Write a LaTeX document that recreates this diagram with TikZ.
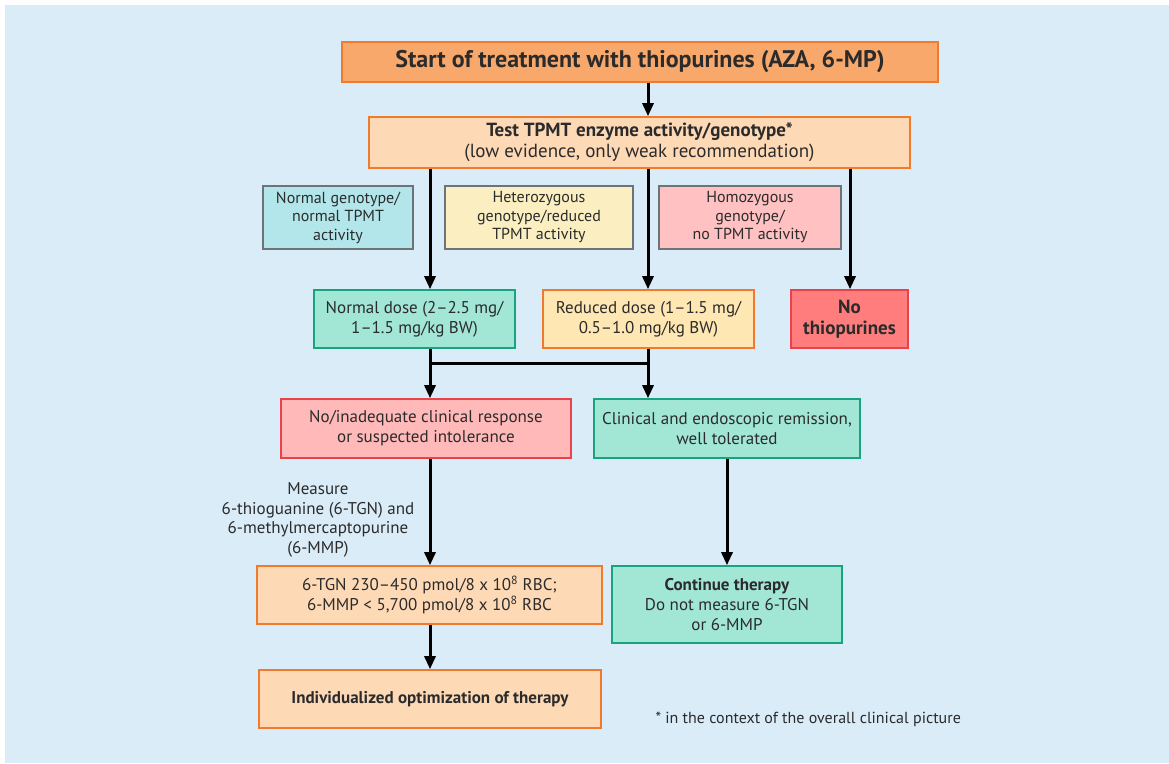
\documentclass[tikz,border=0pt]{standalone}
\usepackage{fontspec}
\setmainfont{PT Sans}
\usetikzlibrary{arrows.meta}
\definecolor{bgblue}{HTML}{D9ECF8}
\definecolor{orfill}{HTML}{F9A86B}
\definecolor{orline}{HTML}{F07B2E}
\definecolor{peach}{HTML}{FED9B6}
\definecolor{lightyel}{HTML}{FFE7B3}
\definecolor{cyanfill}{HTML}{B3E6EA}
\definecolor{creamfill}{HTML}{FBEFC2}
\definecolor{pinkfill}{HTML}{FFC1C1}
\definecolor{greenfill}{HTML}{A2E6D6}
\definecolor{greenline}{HTML}{17A47E}
\definecolor{redfill}{HTML}{FF7D7D}
\definecolor{redline}{HTML}{E8434B}
\definecolor{rosefill}{HTML}{FFB9B9}
\definecolor{grayline}{HTML}{6E7378}
\definecolor{txt}{HTML}{2B2B2B}
\tikzset{
  box/.style={draw, line width=1.6pt, align=center, inner sep=0pt, text=txt, font=\fontsize{17}{20}\selectfont},
  orangebox/.style={box, draw=orline, fill=peach},
  greenbox/.style={box, draw=greenline, fill=greenfill},
  redbox/.style={box, draw=redline, fill=rosefill},
  labelbox/.style={box, draw=grayline, line width=1.3pt, font=\fontsize{16}{18.5}\selectfont},
  flow/.style={line width=3pt, -{Triangle[width=11pt,length=13pt]}},
  joint/.style={line width=3pt}
}
\begin{document}
\begin{tikzpicture}[x=1pt,y=-1pt]
\useasboundingbox (0,0) rectangle (1169,763);
\fill[white] (0,0) rectangle (1169,763);
\fill[bgblue] (5,5) rectangle (1169,763);

% column lines of the chart
\coordinate (cl) at (430,0);
\coordinate (cm) at (648,0);
\coordinate (cr) at (850,0);

% top of the chart
\node[box, draw=orline, fill=orfill, minimum width=596pt, minimum height=40pt,
  font=\bfseries\fontsize{24}{28}\selectfont] (start) at (640,62)
  {Start of treatment with thiopurines (AZA, 6-MP)};
\node[orangebox, minimum width=541pt, minimum height=51pt, font=\fontsize{19}{21}\selectfont] (test) at (639.5,142.5)
  {\textbf{Test TPMT enzyme activity/genotype*}\\(low evidence, only weak recommendation)};

% genotype categories
\node[labelbox, fill=cyanfill, minimum width=150pt, minimum height=63pt] (normgen) at (338,217.5)
  {Normal genotype/\\normal TPMT\\activity};
\node[labelbox, fill=creamfill, minimum width=188pt, minimum height=63pt] (hetgen) at (539,217.5)
  {Heterozygous\\genotype/reduced\\TPMT activity};
\node[labelbox, fill=pinkfill, minimum width=182pt, minimum height=63pt] (homgen) at (750,217.5)
  {Homozygous\\genotype/\\no TPMT activity};

% dosing
\node[greenbox, minimum width=201pt, minimum height=58pt] (normdose) at (414.5,319)
  {Normal dose (2--2.5 mg/\\1--1.5 mg/kg BW)};
\node[box, draw=orline, fill=lightyel, minimum width=211pt, minimum height=58pt] (reddose) at (648.5,319)
  {Reduced dose (1--1.5 mg/\\0.5--1.0 mg/kg BW)};
\node[box, draw=redline, fill=redfill, minimum width=117pt, minimum height=58pt,
  font=\bfseries\fontsize{19}{21}\selectfont] (nothio) at (849.5,319)
  {No\\thiopurines};

% response
\node[redbox, minimum width=290pt, minimum height=59pt] (noresp) at (426,428.5)
  {No/inadequate clinical response\\or suspected intolerance};
\node[greenbox, minimum width=266pt, minimum height=59pt] (remission) at (727,428.5)
  {Clinical and endoscopic remission,\\well tolerated};

% follow-up
\node[orangebox, minimum width=345pt, minimum height=58pt] (levels) at (429.5,595)
  {6-TGN 230--450 pmol/8 x 10\textsuperscript{8} RBC;\\6-MMP < 5,700 pmol/8 x 10\textsuperscript{8} RBC};
\node[orangebox, minimum width=342pt, minimum height=58pt, font=\bfseries\fontsize{17}{20}\selectfont] (optim) at (430,699)
  {Individualized optimization of therapy};
\node[greenbox, minimum width=230pt, minimum height=77pt] (cont) at (727,604.5)
  {\textbf{Continue therapy}\\Do not measure 6-TGN\\or 6-MMP};

\node[align=center, text=txt, font=\fontsize{17}{19.5}\selectfont] (measure) at (318,520)
  {Measure\\6-thioguanine (6-TGN) and\\6-methylmercaptopurine\\(6-MMP)};
\node[anchor=west, text=txt, font=\fontsize{16}{18}\selectfont] (note) at (652,719)
  {* in the context of the overall clinical picture};

% connectors
\draw[flow] (start.south -| cm) -- (test.north -| cm);
\draw[flow] (test.south -| cl) -- (normdose.north -| cl);
\draw[flow] (test.south -| cm) -- (reddose.north -| cm);
\draw[flow] (test.south -| cr) -- (nothio.north -| cr);

\coordinate (jl) at (430,363);
\coordinate (jr) at (648,363);
\draw[joint] (normdose.south -| jl) -- (jl) -- (jr);
\draw[joint] (reddose.south -| jr) -- (jr);
\draw[flow] (jl) -- (jl |- noresp.north);
\draw[flow] (jr) -- (jr |- remission.north);

\draw[flow] (noresp.south -| jl) -- (jl |- levels.north);
\draw[flow] (levels.south -| jl) -- (jl |- optim.north);
\draw[flow] (remission.south) -- (cont.north);
\end{tikzpicture}
\end{document}
